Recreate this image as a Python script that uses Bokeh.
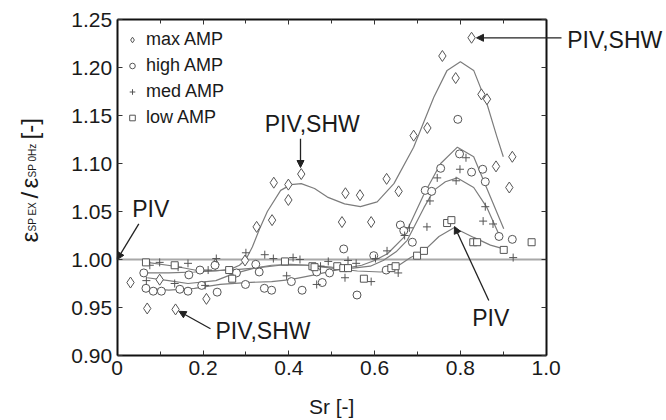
import math
from bokeh.plotting import figure
from bokeh.models import (LinearAxis, FixedTicker, Range1d, Label, Arrow, NormalHead,
                          Legend, LegendItem)
from bokeh.embed import file_html
from bokeh.resources import INLINE

# ---------------- data ----------------
max_x = [0.031, 0.070, 0.099, 0.136, 0.208, 0.229, 0.298, 0.325, 0.361, 0.365, 0.399, 0.399,
         0.429, 0.524, 0.532, 0.566, 0.592, 0.628, 0.656, 0.691, 0.723, 0.758, 0.789, 0.826,
         0.849, 0.862, 0.883, 0.914, 0.921]
max_y = [0.976, 0.949, 0.979, 0.948, 0.959, 0.995, 0.999, 1.034, 1.041, 1.080, 1.078, 1.062,
         1.089, 1.039, 1.069, 1.067, 1.039, 1.084, 1.071, 1.129, 1.137, 1.212, 1.189, 1.231,
         1.172, 1.167, 1.097, 1.075, 1.107]

high_x = [0.062, 0.067, 0.084, 0.103, 0.146, 0.165, 0.167, 0.193, 0.197, 0.228, 0.233, 0.278,
          0.299, 0.323, 0.331, 0.343, 0.360, 0.406, 0.431, 0.465, 0.478, 0.495, 0.528, 0.559,
          0.598, 0.627, 0.660, 0.668, 0.688, 0.718, 0.733, 0.754, 0.794, 0.798, 0.826, 0.852,
          0.858, 0.890, 0.921]
high_y = [0.986, 0.970, 0.967, 0.967, 0.969, 0.967, 0.984, 0.989, 0.973, 0.994, 0.966, 0.986,
          0.974, 0.995, 0.987, 0.970, 0.968, 0.977, 0.968, 0.987, 0.976, 0.986, 1.011, 0.963,
          1.004, 0.989, 1.036, 1.030, 1.018, 1.072, 1.071, 1.095, 1.146, 1.110, 1.091, 1.094,
          1.081, 1.024, 1.021]

med_x = [0.068, 0.076, 0.099, 0.134, 0.142, 0.165, 0.205, 0.212, 0.231, 0.300, 0.344, 0.364,
         0.395, 0.410, 0.426, 0.465, 0.474, 0.492, 0.531, 0.538, 0.557, 0.592, 0.602, 0.629,
         0.655, 0.670, 0.681, 0.722, 0.729, 0.746, 0.790, 0.799, 0.813, 0.853, 0.858, 0.876,
         0.923]
med_y = [0.978, 0.994, 0.997, 0.975, 0.992, 0.996, 0.973, 0.989, 1.001, 1.007, 1.005, 1.001,
         0.983, 1.002, 1.000, 0.974, 0.993, 0.998, 0.981, 0.999, 0.996, 0.977, 1.001, 1.009,
         0.986, 1.025, 1.033, 1.034, 1.061, 1.085, 1.082, 1.094, 1.106, 1.040, 1.055, 1.037,
         1.002]

low_x = [0.067, 0.134, 0.261, 0.268, 0.391, 0.455, 0.460, 0.513, 0.527, 0.538, 0.575, 0.639,
         0.649, 0.699, 0.715, 0.769, 0.779, 0.830, 0.839, 0.901, 0.966]
low_y = [0.997, 0.994, 0.989, 0.980, 0.998, 0.993, 0.992, 0.993, 0.991, 0.991, 0.980, 0.991,
         0.993, 1.004, 1.009, 1.038, 1.041, 1.018, 1.018, 1.010, 1.018]

# fitted trend curves
max_fit_x = [0.07, 0.12, 0.18, 0.23, 0.265, 0.285, 0.300, 0.315, 0.332, 0.350, 0.381, 0.405,
             0.429, 0.46, 0.49, 0.53, 0.567, 0.606, 0.645, 0.691, 0.738, 0.769, 0.800, 0.831,
             0.862, 0.885, 0.900]
max_fit_y = [0.986, 0.986, 0.987, 0.988, 0.990, 0.994, 1.000, 1.013, 1.032, 1.050, 1.072, 1.078,
             1.079, 1.074, 1.065, 1.058, 1.055, 1.060, 1.079, 1.117, 1.169, 1.197, 1.206, 1.197,
             1.162, 1.128, 1.107]
high_fit_x = [0.07, 0.12, 0.18, 0.24, 0.30, 0.36, 0.404, 0.46, 0.52, 0.57, 0.60, 0.63, 0.668,
              0.715, 0.754, 0.793, 0.831, 0.870, 0.901]
high_fit_y = [0.970, 0.968, 0.970, 0.974, 0.976, 0.977, 0.979, 0.984, 0.990, 0.994, 0.999, 1.006,
              1.023, 1.068, 1.100, 1.117, 1.107, 1.065, 1.032]
med_fit_x = [0.07, 0.12, 0.165, 0.23, 0.27, 0.32, 0.36, 0.404, 0.45, 0.50, 0.55, 0.59, 0.62,
             0.65, 0.676, 0.715, 0.738, 0.765, 0.793, 0.831, 0.862, 0.893]
med_fit_y = [0.981, 0.978, 0.975, 0.978, 0.985, 0.991, 0.994, 0.995, 0.994, 0.992, 0.991, 0.993,
             0.999, 1.008, 1.020, 1.054, 1.072, 1.081, 1.085, 1.075, 1.054, 1.023]
low_fit_x = [0.07, 0.134, 0.193, 0.262, 0.32, 0.38, 0.44, 0.50, 0.56, 0.614, 0.64, 0.684, 0.715,
             0.75, 0.785, 0.831, 0.870, 0.901]
low_fit_y = [0.997, 0.993, 0.988, 0.989, 0.991, 0.994, 0.994, 0.991, 0.988, 0.987, 0.989, 1.002,
             1.009, 1.024, 1.033, 1.023, 1.015, 1.011]

series_labels = ["max AMP", "high AMP", "med AMP", "low AMP"]
x_ticks = [0, 0.2, 0.4, 0.6, 0.8, 1.0]
x_minor = [0.1, 0.3, 0.5, 0.7, 0.9]
x_tick_labels = ["0", "0.2", "0.4", "0.6", "0.8", "1.0"]
y_ticks = [0.90, 0.95, 1.00, 1.05, 1.10, 1.15, 1.20, 1.25]
y_tick_labels = ["0.90", "0.95", "1.00", "1.05", "1.10", "1.15", "1.20", "1.25"]
ref_level = 1.0

FONT = "Liberation Sans"
TXT = "#1a1a1a"

# ---------------- layout: data box placed on a full-canvas frame ----------------
W, H = 666, 420
L, R, T, B = 116.7, 545.7, 19.0, 355.0          # data box in pixels
X0, X1 = x_ticks[0], x_ticks[-1]
Y0, Y1 = y_ticks[0], y_ticks[-1]
sx = (X1 - X0) / (R - L)
sy = (Y1 - Y0) / (B - T)
SHIFT = 8  # empirical text baseline correction (pixels)

p = figure(width=W, height=H, output_backend="svg", toolbar_location=None,
           x_range=Range1d(X0 - L * sx, X1 + (W - R) * sx),
           y_range=Range1d(Y0 - (H - B) * sy, Y1 + T * sy),
           x_axis_type=None, y_axis_type=None, min_border=0)
p.background_fill_color = "white"
p.border_fill_color = "white"
p.outline_line_color = None
p.xgrid.visible = False
p.ygrid.visible = False


def xd(px):
    return X0 + (px - L) * sx


def yd(py):
    return Y1 - (py - T) * sy


def make_axis(ticks, minor, labels, show, loc, bounds):
    ax = LinearAxis(ticker=FixedTicker(ticks=ticks, minor_ticks=minor),
                    fixed_location=loc, bounds=bounds)
    ax.major_tick_in = 5
    ax.major_tick_out = 0
    ax.minor_tick_in = 4 if minor else 0
    ax.minor_tick_out = 0
    ax.major_tick_line_color = "#333333"
    ax.minor_tick_line_color = "#333333"
    ax.axis_line_color = "#111111"
    ax.axis_line_width = 2
    if show:
        ax.major_label_overrides = {t: l for t, l in zip(ticks, labels)}
        ax.major_label_text_font = FONT
        ax.major_label_text_font_size = "21px"
        ax.major_label_text_color = TXT
        ax.major_label_standoff = 5
    else:
        ax.major_label_text_font_size = "0px"
        ax.major_label_text_alpha = 0
        ax.major_label_standoff = 0
    return ax


p.add_layout(make_axis(x_ticks, x_minor, x_tick_labels, True, Y0, (X0, X1)), "below")
p.add_layout(make_axis(x_ticks, x_minor, x_tick_labels, False, Y1, (X0, X1)), "above")
p.add_layout(make_axis(y_ticks, [], y_tick_labels, True, X0, (Y0, Y1)), "left")
p.add_layout(make_axis(y_ticks, [], y_tick_labels, False, X1, (Y0, Y1)), "right")

# reference line at 1.0
p.line([X0, X1], [ref_level, ref_level], line_color="#a8a8a8", line_width=2)

# fitted curves
curve_color = "#7c7c7c"
for fx, fy in [(max_fit_x, max_fit_y), (high_fit_x, high_fit_y),
               (med_fit_x, med_fit_y), (low_fit_x, low_fit_y)]:
    p.line(fx, fy, line_color=curve_color, line_width=1.2)

mk = "#555555"
r_max = p.scatter(max_x, max_y, marker="diamond", size=11, fill_color="white", line_color=mk, line_width=1)
r_high = p.scatter(high_x, high_y, marker="circle", size=8, fill_color="white", line_color=mk, line_width=1)
r_med = p.scatter(med_x, med_y, marker="cross", size=8, line_color=mk, line_width=1)
r_low = p.scatter(low_x, low_y, marker="square", size=7, fill_color="white", line_color=mk, line_width=1)

pad, gh, gw, sp = 5, 21, 14, 5
leg_h = 2 * pad + 4 * gh + 3 * sp
leg_top = 34 - pad - gh / 2
legend = Legend(items=[LegendItem(label=series_labels[0], renderers=[r_max]),
                       LegendItem(label=series_labels[1], renderers=[r_high]),
                       LegendItem(label=series_labels[2], renderers=[r_med]),
                       LegendItem(label=series_labels[3], renderers=[r_low])],
                location=(137 - pad - gw / 2, H - leg_top - leg_h))
legend.border_line_color = None
legend.background_fill_alpha = 0
legend.label_text_font = FONT
legend.label_text_font_size = "18px"
legend.label_text_color = TXT
legend.glyph_width = gw
legend.glyph_height = gh
legend.label_height = gh
legend.spacing = sp
legend.padding = pad
legend.margin = 0
legend.label_standoff = 7
p.add_layout(legend)


# annotations
def ann(text, px, py_base, size="23px", align="left"):
    p.add_layout(Label(x=xd(px), y=yd(py_base - SHIFT), text=text, text_font=FONT,
                       text_font_size=size, text_color=TXT, text_align=align,
                       text_baseline="alphabetic"))


def arrow(x0, y0, x1, y1):
    p.add_layout(Arrow(x_start=x0, y_start=y0, x_end=x1, y_end=y1, line_color="#222222",
                       line_width=1.3,
                       end=NormalHead(size=7, fill_color="#222222", line_color="#222222")))


ann("PIV", 131.7, 216)
arrow(xd(138.3), yd(223.3), X0, ref_level)

ann("PIV,SHW", 311.7, 131.7, align="center")
arrow(xd(300), yd(138.3), xd(300), yd(167))

ann("PIV,SHW", 566.7, 47)
arrow(xd(561), yd(37.3), xd(476), yd(37.3))

ann("PIV,SHW", 215, 338)
arrow(xd(210), yd(328.3), xd(178.5), yd(310.8))

ann("PIV", 471.7, 325)
arrow(xd(488.3), yd(300), xd(454), yd(226))

# x axis title
ann("Sr [-]", (L + R) / 2, 414, size="21px", align="center")


# y axis title with subscripts (rotated)
def ylab(text, px_base, py_start, size):
    p.add_layout(Label(x=xd(px_base - SHIFT), y=yd(py_start), text=text, angle=math.pi / 2,
                       text_font=FONT, text_font_size=size, text_color=TXT,
                       text_align="left", text_baseline="alphabetic"))


ylab("\u03b5", 37, 242, "24px")
ylab("SP EX", 40, 231, "10px")
ylab("/", 37, 198, "24px")
ylab("\u03b5", 37, 188, "24px")
ylab("SP 0Hz", 40, 177, "10px")
ylab("[-]", 37, 139, "24px")

open("out.html", "w").write(file_html(p, INLINE))
